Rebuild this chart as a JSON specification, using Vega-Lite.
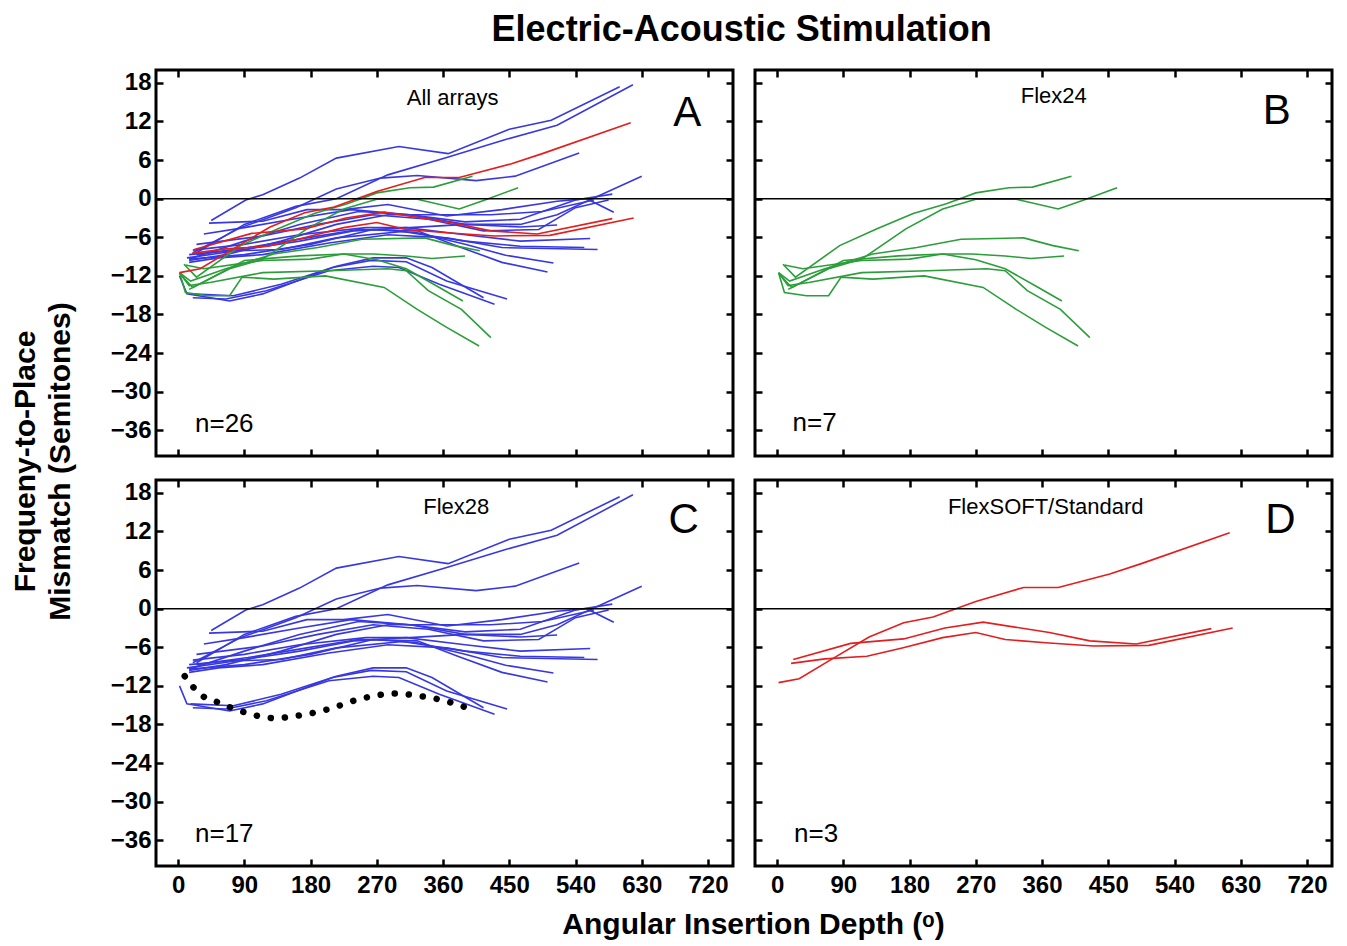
{
"$schema": "https://vega.github.io/schema/vega-lite/v6.json",
"background": "white",
"padding": {"left": 8, "top": 12, "right": 12, "bottom": 8},
"title": {"text": "Electric-Acoustic Stimulation", "fontSize": 36, "fontWeight": "bold", "font": "Liberation Sans", "anchor": "middle", "frame": "bounds", "dx": 70, "offset": 18, "color": "black"},
"data": {"values": [
{"g":"Flex28","id":"b01","x":45,"y":-3.4},{"g":"Flex28","id":"b01","x":92,"y":-0.2},{"g":"Flex28","id":"b01","x":115,"y":0.6},{"g":"Flex28","id":"b01","x":165,"y":3.2},{"g":"Flex28","id":"b01","x":215,"y":6.3},{"g":"Flex28","id":"b01","x":300,"y":8.1},{"g":"Flex28","id":"b01","x":367,"y":7.0},{"g":"Flex28","id":"b01","x":450,"y":10.8},{"g":"Flex28","id":"b01","x":507,"y":12.2},{"g":"Flex28","id":"b01","x":600,"y":17.4},
{"g":"Flex28","id":"b02","x":25,"y":-8.4},{"g":"Flex28","id":"b02","x":90,"y":-4},{"g":"Flex28","id":"b02","x":160,"y":-1.2},{"g":"Flex28","id":"b02","x":215,"y":0},{"g":"Flex28","id":"b02","x":285,"y":3.7},{"g":"Flex28","id":"b02","x":365,"y":6.4},{"g":"Flex28","id":"b02","x":445,"y":9.2},{"g":"Flex28","id":"b02","x":515,"y":11.4},{"g":"Flex28","id":"b02","x":618,"y":17.7},
{"g":"Flex28","id":"b03","x":20,"y":-8.4},{"g":"Flex28","id":"b03","x":85,"y":-4.5},{"g":"Flex28","id":"b03","x":160,"y":-1.4},{"g":"Flex28","id":"b03","x":215,"y":1.5},{"g":"Flex28","id":"b03","x":275,"y":3.2},{"g":"Flex28","id":"b03","x":325,"y":3.6},{"g":"Flex28","id":"b03","x":405,"y":2.8},{"g":"Flex28","id":"b03","x":458,"y":3.5},{"g":"Flex28","id":"b03","x":545,"y":7.1},
{"g":"Flex28","id":"b04","x":15,"y":-9.4},{"g":"Flex28","id":"b04","x":90,"y":-6.6},{"g":"Flex28","id":"b04","x":165,"y":-4},{"g":"Flex28","id":"b04","x":245,"y":-2},{"g":"Flex28","id":"b04","x":315,"y":-2.5},{"g":"Flex28","id":"b04","x":390,"y":-4},{"g":"Flex28","id":"b04","x":465,"y":-4},{"g":"Flex28","id":"b04","x":515,"y":-2.5},{"g":"Flex28","id":"b04","x":565,"y":0.1},{"g":"Flex28","id":"b04","x":630,"y":3.5},
{"g":"Flex28","id":"b05","x":42,"y":-3.8},{"g":"Flex28","id":"b05","x":115,"y":-3.5},{"g":"Flex28","id":"b05","x":175,"y":-1.7},{"g":"Flex28","id":"b05","x":225,"y":-1.7},{"g":"Flex28","id":"b05","x":285,"y":-0.9},{"g":"Flex28","id":"b05","x":365,"y":-2.7},{"g":"Flex28","id":"b05","x":440,"y":-1.7},{"g":"Flex28","id":"b05","x":515,"y":-0.4},{"g":"Flex28","id":"b05","x":555,"y":0},{"g":"Flex28","id":"b05","x":592,"y":-2.1},
{"g":"Flex28","id":"b06","x":35,"y":-5.5},{"g":"Flex28","id":"b06","x":90,"y":-4.5},{"g":"Flex28","id":"b06","x":165,"y":-3},{"g":"Flex28","id":"b06","x":235,"y":-1.7},{"g":"Flex28","id":"b06","x":315,"y":-2.5},{"g":"Flex28","id":"b06","x":390,"y":-3.6},{"g":"Flex28","id":"b06","x":465,"y":-3.2},{"g":"Flex28","id":"b06","x":540,"y":-0.2},{"g":"Flex28","id":"b06","x":590,"y":0.7},
{"g":"Flex28","id":"b07","x":25,"y":-7.1},{"g":"Flex28","id":"b07","x":115,"y":-5.8},{"g":"Flex28","id":"b07","x":190,"y":-4},{"g":"Flex28","id":"b07","x":265,"y":-2.5},{"g":"Flex28","id":"b07","x":340,"y":-3.2},{"g":"Flex28","id":"b07","x":415,"y":-5},{"g":"Flex28","id":"b07","x":490,"y":-4.8},{"g":"Flex28","id":"b07","x":540,"y":-1.4},{"g":"Flex28","id":"b07","x":585,"y":-0.2},
{"g":"Flex28","id":"b08","x":20,"y":-8},{"g":"Flex28","id":"b08","x":90,"y":-7.1},{"g":"Flex28","id":"b08","x":165,"y":-5.6},{"g":"Flex28","id":"b08","x":255,"y":-4.5},{"g":"Flex28","id":"b08","x":315,"y":-4.5},{"g":"Flex28","id":"b08","x":390,"y":-4},{"g":"Flex28","id":"b08","x":465,"y":-4.4},{"g":"Flex28","id":"b08","x":515,"y":-4.1},
{"g":"Flex28","id":"b09","x":15,"y":-8.7},{"g":"Flex28","id":"b09","x":90,"y":-7.9},{"g":"Flex28","id":"b09","x":165,"y":-6.6},{"g":"Flex28","id":"b09","x":240,"y":-5},{"g":"Flex28","id":"b09","x":310,"y":-4.5},{"g":"Flex28","id":"b09","x":390,"y":-5.6},{"g":"Flex28","id":"b09","x":465,"y":-6.6},{"g":"Flex28","id":"b09","x":560,"y":-6.2},
{"g":"Flex28","id":"b10","x":12,"y":-9.2},{"g":"Flex28","id":"b10","x":80,"y":-8.1},{"g":"Flex28","id":"b10","x":140,"y":-7.9},{"g":"Flex28","id":"b10","x":215,"y":-6.1},{"g":"Flex28","id":"b10","x":305,"y":-5.1},{"g":"Flex28","id":"b10","x":390,"y":-6.6},{"g":"Flex28","id":"b10","x":465,"y":-7.4},{"g":"Flex28","id":"b10","x":552,"y":-7.6},
{"g":"Flex28","id":"b11","x":15,"y":-9.9},{"g":"Flex28","id":"b11","x":55,"y":-9.2},{"g":"Flex28","id":"b11","x":115,"y":-8.7},{"g":"Flex28","id":"b11","x":205,"y":-6.9},{"g":"Flex28","id":"b11","x":285,"y":-5.6},{"g":"Flex28","id":"b11","x":365,"y":-6.1},{"g":"Flex28","id":"b11","x":440,"y":-7.6},{"g":"Flex28","id":"b11","x":570,"y":-7.9},
{"g":"Flex28","id":"b12","x":15,"y":-9.4},{"g":"Flex28","id":"b12","x":90,"y":-8.7},{"g":"Flex28","id":"b12","x":180,"y":-7.1},{"g":"Flex28","id":"b12","x":265,"y":-4.8},{"g":"Flex28","id":"b12","x":325,"y":-5.3},{"g":"Flex28","id":"b12","x":390,"y":-7.1},{"g":"Flex28","id":"b12","x":445,"y":-8.8},{"g":"Flex28","id":"b12","x":510,"y":-10},
{"g":"Flex28","id":"b13","x":25,"y":-8.7},{"g":"Flex28","id":"b13","x":95,"y":-7.6},{"g":"Flex28","id":"b13","x":175,"y":-6.1},{"g":"Flex28","id":"b13","x":245,"y":-4.8},{"g":"Flex28","id":"b13","x":325,"y":-5},{"g":"Flex28","id":"b13","x":380,"y":-7.4},{"g":"Flex28","id":"b13","x":440,"y":-9.9},{"g":"Flex28","id":"b13","x":502,"y":-11.4},
{"g":"Flex28","id":"b14","x":2,"y":-12},{"g":"Flex28","id":"b14","x":12,"y":-14.8},{"g":"Flex28","id":"b14","x":70,"y":-15.9},{"g":"Flex28","id":"b14","x":115,"y":-14.8},{"g":"Flex28","id":"b14","x":210,"y":-10.7},{"g":"Flex28","id":"b14","x":262,"y":-9.6},{"g":"Flex28","id":"b14","x":310,"y":-9.8},{"g":"Flex28","id":"b14","x":365,"y":-12.8},{"g":"Flex28","id":"b14","x":447,"y":-15.6},
{"g":"Flex28","id":"b15","x":20,"y":-15.4},{"g":"Flex28","id":"b15","x":65,"y":-15.6},{"g":"Flex28","id":"b15","x":120,"y":-14.3},{"g":"Flex28","id":"b15","x":205,"y":-11.2},{"g":"Flex28","id":"b15","x":265,"y":-10.5},{"g":"Flex28","id":"b15","x":300,"y":-10.7},{"g":"Flex28","id":"b15","x":355,"y":-13.3},{"g":"Flex28","id":"b15","x":430,"y":-16.4},
{"g":"Flex28","id":"b16","x":17,"y":-14.8},{"g":"Flex28","id":"b16","x":75,"y":-15.1},{"g":"Flex28","id":"b16","x":140,"y":-13.3},{"g":"Flex28","id":"b16","x":215,"y":-10.5},{"g":"Flex28","id":"b16","x":265,"y":-9.2},{"g":"Flex28","id":"b16","x":310,"y":-9.2},{"g":"Flex28","id":"b16","x":345,"y":-10.7},{"g":"Flex28","id":"b16","x":415,"y":-15.4},
{"g":"Flex28","id":"b17","x":15,"y":-9.6},{"g":"Flex28","id":"b17","x":65,"y":-8.7},{"g":"Flex28","id":"b17","x":140,"y":-6.6},{"g":"Flex28","id":"b17","x":215,"y":-4},{"g":"Flex28","id":"b17","x":285,"y":-2.5},{"g":"Flex28","id":"b17","x":355,"y":-2.5},{"g":"Flex28","id":"b17","x":425,"y":-2.5},{"g":"Flex28","id":"b17","x":495,"y":-2},{"g":"Flex28","id":"b17","x":565,"y":-0.2},
{"g":"Flex24","id":"g1","x":8,"y":-10.2},{"g":"Flex24","id":"g1","x":25,"y":-12.2},{"g":"Flex24","id":"g1","x":85,"y":-7.3},{"g":"Flex24","id":"g1","x":135,"y":-4.7},{"g":"Flex24","id":"g1","x":185,"y":-2.3},{"g":"Flex24","id":"g1","x":230,"y":-0.8},{"g":"Flex24","id":"g1","x":270,"y":0.9},{"g":"Flex24","id":"g1","x":315,"y":1.7},{"g":"Flex24","id":"g1","x":347,"y":1.8},{"g":"Flex24","id":"g1","x":400,"y":3.5},
{"g":"Flex24","id":"g2","x":15,"y":-14.1},{"g":"Flex24","id":"g2","x":70,"y":-10.9},{"g":"Flex24","id":"g2","x":115,"y":-9.4},{"g":"Flex24","id":"g2","x":175,"y":-4.7},{"g":"Flex24","id":"g2","x":225,"y":-1.6},{"g":"Flex24","id":"g2","x":270,"y":-0.1},{"g":"Flex24","id":"g2","x":325,"y":-0.1},{"g":"Flex24","id":"g2","x":382,"y":-1.6},{"g":"Flex24","id":"g2","x":415,"y":-0.3},{"g":"Flex24","id":"g2","x":462,"y":1.7},
{"g":"Flex24","id":"g3","x":2,"y":-11.5},{"g":"Flex24","id":"g3","x":17,"y":-12.8},{"g":"Flex24","id":"g3","x":65,"y":-10.9},{"g":"Flex24","id":"g3","x":130,"y":-8.6},{"g":"Flex24","id":"g3","x":190,"y":-7.6},{"g":"Flex24","id":"g3","x":250,"y":-6.3},{"g":"Flex24","id":"g3","x":335,"y":-6.1},{"g":"Flex24","id":"g3","x":375,"y":-7.3},{"g":"Flex24","id":"g3","x":410,"y":-8.1},
{"g":"Flex24","id":"g4","x":5,"y":-12},{"g":"Flex24","id":"g4","x":20,"y":-13.8},{"g":"Flex24","id":"g4","x":90,"y":-9.6},{"g":"Flex24","id":"g4","x":165,"y":-8.9},{"g":"Flex24","id":"g4","x":225,"y":-8.6},{"g":"Flex24","id":"g4","x":265,"y":-8.6},{"g":"Flex24","id":"g4","x":310,"y":-8.9},{"g":"Flex24","id":"g4","x":345,"y":-9.3},{"g":"Flex24","id":"g4","x":390,"y":-8.9},
{"g":"Flex24","id":"g5","x":10,"y":-10.3},{"g":"Flex24","id":"g5","x":35,"y":-10.9},{"g":"Flex24","id":"g5","x":115,"y":-9.6},{"g":"Flex24","id":"g5","x":180,"y":-9.4},{"g":"Flex24","id":"g5","x":225,"y":-8.6},{"g":"Flex24","id":"g5","x":270,"y":-9.5},{"g":"Flex24","id":"g5","x":310,"y":-10.9},{"g":"Flex24","id":"g5","x":355,"y":-13.8},{"g":"Flex24","id":"g5","x":387,"y":-15.9},
{"g":"Flex24","id":"g6","x":2,"y":-11.5},{"g":"Flex24","id":"g6","x":15,"y":-13.5},{"g":"Flex24","id":"g6","x":45,"y":-13},{"g":"Flex24","id":"g6","x":115,"y":-11.5},{"g":"Flex24","id":"g6","x":205,"y":-11.2},{"g":"Flex24","id":"g6","x":285,"y":-10.9},{"g":"Flex24","id":"g6","x":310,"y":-11.2},{"g":"Flex24","id":"g6","x":340,"y":-14.3},{"g":"Flex24","id":"g6","x":385,"y":-17.2},{"g":"Flex24","id":"g6","x":425,"y":-21.6},
{"g":"Flex24","id":"g7","x":2,"y":-11.5},{"g":"Flex24","id":"g7","x":10,"y":-14.6},{"g":"Flex24","id":"g7","x":40,"y":-15.1},{"g":"Flex24","id":"g7","x":70,"y":-15.1},{"g":"Flex24","id":"g7","x":87,"y":-12.2},{"g":"Flex24","id":"g7","x":130,"y":-12.5},{"g":"Flex24","id":"g7","x":200,"y":-12},{"g":"Flex24","id":"g7","x":280,"y":-13.8},{"g":"Flex24","id":"g7","x":325,"y":-17.2},{"g":"Flex24","id":"g7","x":365,"y":-20},{"g":"Flex24","id":"g7","x":409,"y":-22.9},
{"g":"FlexSOFT","id":"r1","x":2,"y":-11.5},{"g":"FlexSOFT","id":"r1","x":30,"y":-10.9},{"g":"FlexSOFT","id":"r1","x":75,"y":-7.8},{"g":"FlexSOFT","id":"r1","x":125,"y":-4.4},{"g":"FlexSOFT","id":"r1","x":172,"y":-2.2},{"g":"FlexSOFT","id":"r1","x":212,"y":-1.3},{"g":"FlexSOFT","id":"r1","x":270,"y":1.1},{"g":"FlexSOFT","id":"r1","x":335,"y":3.3},{"g":"FlexSOFT","id":"r1","x":382,"y":3.3},{"g":"FlexSOFT","id":"r1","x":452,"y":5.4},{"g":"FlexSOFT","id":"r1","x":495,"y":7},{"g":"FlexSOFT","id":"r1","x":615,"y":11.8},
{"g":"FlexSOFT","id":"r2","x":22,"y":-7.9},{"g":"FlexSOFT","id":"r2","x":100,"y":-5.4},{"g":"FlexSOFT","id":"r2","x":172,"y":-4.7},{"g":"FlexSOFT","id":"r2","x":228,"y":-3},{"g":"FlexSOFT","id":"r2","x":280,"y":-2.1},{"g":"FlexSOFT","id":"r2","x":370,"y":-3.7},{"g":"FlexSOFT","id":"r2","x":425,"y":-5},{"g":"FlexSOFT","id":"r2","x":488,"y":-5.5},{"g":"FlexSOFT","id":"r2","x":590,"y":-3.1},
{"g":"FlexSOFT","id":"r3","x":19,"y":-8.5},{"g":"FlexSOFT","id":"r3","x":65,"y":-7.8},{"g":"FlexSOFT","id":"r3","x":122,"y":-7.4},{"g":"FlexSOFT","id":"r3","x":170,"y":-6.1},{"g":"FlexSOFT","id":"r3","x":225,"y":-4.5},{"g":"FlexSOFT","id":"r3","x":270,"y":-3.7},{"g":"FlexSOFT","id":"r3","x":310,"y":-4.8},{"g":"FlexSOFT","id":"r3","x":365,"y":-5.3},{"g":"FlexSOFT","id":"r3","x":430,"y":-5.8},{"g":"FlexSOFT","id":"r3","x":505,"y":-5.7},{"g":"FlexSOFT","id":"r3","x":619,"y":-3},
{"g":"ref","id":"d","x":9,"y":-10.5},{"g":"ref","id":"d","x":30,"y":-13.3},{"g":"ref","id":"d","x":55,"y":-14.6},{"g":"ref","id":"d","x":90,"y":-16.1},{"g":"ref","id":"d","x":130,"y":-17},{"g":"ref","id":"d","x":165,"y":-16.6},{"g":"ref","id":"d","x":205,"y":-15.6},{"g":"ref","id":"d","x":245,"y":-14.1},{"g":"ref","id":"d","x":295,"y":-13.2},{"g":"ref","id":"d","x":330,"y":-13.6},{"g":"ref","id":"d","x":365,"y":-14.4},{"g":"ref","id":"d","x":392,"y":-15.4}
]},
"columns": 2,
"spacing": {"row": 24, "column": 22},
"bounds": "flush",
"concat": [
{
 "width": 577, "height": 386,
 "layer": [
  {"transform": [{"filter": "datum.g !== 'ref'"}],
   "mark": {"type": "line", "strokeWidth": 1.6},
   "encoding": {
    "x": {"field": "x", "type": "quantitative", "scale": {"domain": [-30, 754], "nice": false, "zero": false}, "axis": {"orient": "bottom", "values": [0,90,180,270,360,450,540,630,720], "labels": false, "title": null}},
    "y": {"field": "y", "type": "quantitative", "scale": {"domain": [-40, 20], "nice": false, "zero": false}, "axis": {"orient": "left", "values": [-36,-30,-24,-18,-12,-6,0,6,12,18], "title": ["Frequeny-to-Place", "Mismatch (Semitones)"], "titleX": -131, "titleY": 391, "titleAngle": -90, "titleAlign": "center", "titleBaseline": "middle", "titleLineHeight": 35}},
    "color": {"field": "g", "type": "nominal", "scale": {"domain": ["Flex28", "Flex24", "FlexSOFT"], "range": ["#3838e2", "#2b9e3a", "#e41d1d"]}, "legend": null},
    "detail": {"field": "id"}
   }},
  {"data": {"values": [{}]}, "mark": {"type": "rule", "color": "black", "strokeWidth": 1.5},
   "encoding": {"y": {"datum": 0, "type": "quantitative", "scale": {"domain": [-40, 20], "nice": false, "zero": false}, "axis": null}}},
  {"data": {"values": [{}]}, "mark": {"type": "text", "fontSize": 22, "align": "center", "baseline": "alphabetic", "color": "black"},
   "encoding": {
    "x": {"datum": 373, "type": "quantitative", "scale": {"domain": [-30, 754], "nice": false, "zero": false}, "axis": {"orient": "top", "values": [0,90,180,270,360,450,540,630,720], "labels": false, "title": null}},
    "y": {"datum": 14.6, "type": "quantitative", "scale": {"domain": [-40, 20], "nice": false, "zero": false}, "axis": {"orient": "right", "values": [-36,-30,-24,-18,-12,-6,0,6,12,18], "labels": false, "title": null}},
    "text": {"datum": "All arrays"}}},
  {"data": {"values": [{}]}, "mark": {"type": "text", "fontSize": 42, "align": "center", "baseline": "alphabetic", "color": "black"},
   "encoding": {
    "x": {"datum": 692, "type": "quantitative", "scale": {"domain": [-30, 754], "nice": false, "zero": false}, "axis": null},
    "y": {"datum": 11.3, "type": "quantitative", "scale": {"domain": [-40, 20], "nice": false, "zero": false}, "axis": null},
    "text": {"datum": "A"}}},
  {"data": {"values": [{}]}, "mark": {"type": "text", "fontSize": 26, "align": "left", "baseline": "alphabetic", "color": "black"},
   "encoding": {
    "x": {"datum": 23, "type": "quantitative", "scale": {"domain": [-30, 754], "nice": false, "zero": false}, "axis": null},
    "y": {"datum": -36.2, "type": "quantitative", "scale": {"domain": [-40, 20], "nice": false, "zero": false}, "axis": null},
    "text": {"datum": "n=26"}}}
 ],
 "resolve": {"axis": {"x": "independent", "y": "independent"}}
},
{
 "width": 577, "height": 386,
 "layer": [
  {"transform": [{"filter": "datum.g === 'Flex24'"}],
   "mark": {"type": "line", "strokeWidth": 1.6},
   "encoding": {
    "x": {"field": "x", "type": "quantitative", "scale": {"domain": [-30, 754], "nice": false, "zero": false}, "axis": {"orient": "bottom", "values": [0,90,180,270,360,450,540,630,720], "labels": false, "title": null}},
    "y": {"field": "y", "type": "quantitative", "scale": {"domain": [-40, 20], "nice": false, "zero": false}, "axis": {"orient": "left", "values": [-36,-30,-24,-18,-12,-6,0,6,12,18], "labels": false, "title": null}},
    "color": {"field": "g", "type": "nominal", "scale": {"domain": ["Flex28", "Flex24", "FlexSOFT"], "range": ["#3838e2", "#2b9e3a", "#e41d1d"]}, "legend": null},
    "detail": {"field": "id"}
   }},
  {"data": {"values": [{}]}, "mark": {"type": "rule", "color": "black", "strokeWidth": 1.5},
   "encoding": {"y": {"datum": 0, "type": "quantitative", "scale": {"domain": [-40, 20], "nice": false, "zero": false}, "axis": null}}},
  {"data": {"values": [{}]}, "mark": {"type": "text", "fontSize": 22, "align": "center", "baseline": "alphabetic", "color": "black"},
   "encoding": {
    "x": {"datum": 376, "type": "quantitative", "scale": {"domain": [-30, 754], "nice": false, "zero": false}, "axis": {"orient": "top", "values": [0,90,180,270,360,450,540,630,720], "labels": false, "title": null}},
    "y": {"datum": 14.9, "type": "quantitative", "scale": {"domain": [-40, 20], "nice": false, "zero": false}, "axis": {"orient": "right", "values": [-36,-30,-24,-18,-12,-6,0,6,12,18], "labels": false, "title": null}},
    "text": {"datum": "Flex24"}}},
  {"data": {"values": [{}]}, "mark": {"type": "text", "fontSize": 42, "align": "center", "baseline": "alphabetic", "color": "black"},
   "encoding": {
    "x": {"datum": 679, "type": "quantitative", "scale": {"domain": [-30, 754], "nice": false, "zero": false}, "axis": null},
    "y": {"datum": 11.6, "type": "quantitative", "scale": {"domain": [-40, 20], "nice": false, "zero": false}, "axis": null},
    "text": {"datum": "B"}}},
  {"data": {"values": [{}]}, "mark": {"type": "text", "fontSize": 26, "align": "left", "baseline": "alphabetic", "color": "black"},
   "encoding": {
    "x": {"datum": 21, "type": "quantitative", "scale": {"domain": [-30, 754], "nice": false, "zero": false}, "axis": null},
    "y": {"datum": -36.1, "type": "quantitative", "scale": {"domain": [-40, 20], "nice": false, "zero": false}, "axis": null},
    "text": {"datum": "n=7"}}}
 ],
 "resolve": {"axis": {"x": "independent", "y": "independent"}}
},
{
 "width": 577, "height": 386,
 "layer": [
  {"transform": [{"filter": "datum.g === 'Flex28'"}],
   "mark": {"type": "line", "strokeWidth": 1.6},
   "encoding": {
    "x": {"field": "x", "type": "quantitative", "scale": {"domain": [-30, 754], "nice": false, "zero": false}, "axis": {"orient": "bottom", "values": [0,90,180,270,360,450,540,630,720], "title": "Angular Insertion Depth (ᵒ)", "titleX": 597, "titleY": 67, "titleAlign": "center", "titleBaseline": "alphabetic"}},
    "y": {"field": "y", "type": "quantitative", "scale": {"domain": [-40, 20], "nice": false, "zero": false}, "axis": {"orient": "left", "values": [-36,-30,-24,-18,-12,-6,0,6,12,18], "title": null}},
    "color": {"field": "g", "type": "nominal", "scale": {"domain": ["Flex28", "Flex24", "FlexSOFT"], "range": ["#3838e2", "#2b9e3a", "#e41d1d"]}, "legend": null},
    "detail": {"field": "id"}
   }},
  {"transform": [{"filter": "datum.g === 'ref'"}],
   "mark": {"type": "line", "color": "black", "strokeWidth": 6.5, "strokeCap": "round", "strokeDash": [0.1, 14], "interpolate": "monotone"},
   "encoding": {
    "x": {"field": "x", "type": "quantitative", "scale": {"domain": [-30, 754], "nice": false, "zero": false}, "axis": null},
    "y": {"field": "y", "type": "quantitative", "scale": {"domain": [-40, 20], "nice": false, "zero": false}, "axis": null}
   }},
  {"data": {"values": [{}]}, "mark": {"type": "rule", "color": "black", "strokeWidth": 1.5},
   "encoding": {"y": {"datum": 0, "type": "quantitative", "scale": {"domain": [-40, 20], "nice": false, "zero": false}, "axis": null}}},
  {"data": {"values": [{}]}, "mark": {"type": "text", "fontSize": 22, "align": "center", "baseline": "alphabetic", "color": "black"},
   "encoding": {
    "x": {"datum": 378, "type": "quantitative", "scale": {"domain": [-30, 754], "nice": false, "zero": false}, "axis": {"orient": "top", "values": [0,90,180,270,360,450,540,630,720], "labels": false, "title": null}},
    "y": {"datum": 14.7, "type": "quantitative", "scale": {"domain": [-40, 20], "nice": false, "zero": false}, "axis": {"orient": "right", "values": [-36,-30,-24,-18,-12,-6,0,6,12,18], "labels": false, "title": null}},
    "text": {"datum": "Flex28"}}},
  {"data": {"values": [{}]}, "mark": {"type": "text", "fontSize": 42, "align": "center", "baseline": "alphabetic", "color": "black"},
   "encoding": {
    "x": {"datum": 687, "type": "quantitative", "scale": {"domain": [-30, 754], "nice": false, "zero": false}, "axis": null},
    "y": {"datum": 11.8, "type": "quantitative", "scale": {"domain": [-40, 20], "nice": false, "zero": false}, "axis": null},
    "text": {"datum": "C"}}},
  {"data": {"values": [{}]}, "mark": {"type": "text", "fontSize": 26, "align": "left", "baseline": "alphabetic", "color": "black"},
   "encoding": {
    "x": {"datum": 23, "type": "quantitative", "scale": {"domain": [-30, 754], "nice": false, "zero": false}, "axis": null},
    "y": {"datum": -36.2, "type": "quantitative", "scale": {"domain": [-40, 20], "nice": false, "zero": false}, "axis": null},
    "text": {"datum": "n=17"}}}
 ],
 "resolve": {"axis": {"x": "independent", "y": "independent"}}
},
{
 "width": 577, "height": 386,
 "layer": [
  {"transform": [{"filter": "datum.g === 'FlexSOFT'"}],
   "mark": {"type": "line", "strokeWidth": 1.6},
   "encoding": {
    "x": {"field": "x", "type": "quantitative", "scale": {"domain": [-30, 754], "nice": false, "zero": false}, "axis": {"orient": "bottom", "values": [0,90,180,270,360,450,540,630,720], "title": null}},
    "y": {"field": "y", "type": "quantitative", "scale": {"domain": [-40, 20], "nice": false, "zero": false}, "axis": {"orient": "left", "values": [-36,-30,-24,-18,-12,-6,0,6,12,18], "labels": false, "title": null}},
    "color": {"field": "g", "type": "nominal", "scale": {"domain": ["Flex28", "Flex24", "FlexSOFT"], "range": ["#3838e2", "#2b9e3a", "#e41d1d"]}, "legend": null},
    "detail": {"field": "id"}
   }},
  {"data": {"values": [{}]}, "mark": {"type": "rule", "color": "black", "strokeWidth": 1.5},
   "encoding": {"y": {"datum": 0, "type": "quantitative", "scale": {"domain": [-40, 20], "nice": false, "zero": false}, "axis": null}}},
  {"data": {"values": [{}]}, "mark": {"type": "text", "fontSize": 22, "align": "center", "baseline": "alphabetic", "color": "black"},
   "encoding": {
    "x": {"datum": 365, "type": "quantitative", "scale": {"domain": [-30, 754], "nice": false, "zero": false}, "axis": {"orient": "top", "values": [0,90,180,270,360,450,540,630,720], "labels": false, "title": null}},
    "y": {"datum": 14.7, "type": "quantitative", "scale": {"domain": [-40, 20], "nice": false, "zero": false}, "axis": {"orient": "right", "values": [-36,-30,-24,-18,-12,-6,0,6,12,18], "labels": false, "title": null}},
    "text": {"datum": "FlexSOFT/Standard"}}},
  {"data": {"values": [{}]}, "mark": {"type": "text", "fontSize": 42, "align": "center", "baseline": "alphabetic", "color": "black"},
   "encoding": {
    "x": {"datum": 684, "type": "quantitative", "scale": {"domain": [-30, 754], "nice": false, "zero": false}, "axis": null},
    "y": {"datum": 11.8, "type": "quantitative", "scale": {"domain": [-40, 20], "nice": false, "zero": false}, "axis": null},
    "text": {"datum": "D"}}},
  {"data": {"values": [{}]}, "mark": {"type": "text", "fontSize": 26, "align": "left", "baseline": "alphabetic", "color": "black"},
   "encoding": {
    "x": {"datum": 23, "type": "quantitative", "scale": {"domain": [-30, 754], "nice": false, "zero": false}, "axis": null},
    "y": {"datum": -36.2, "type": "quantitative", "scale": {"domain": [-40, 20], "nice": false, "zero": false}, "axis": null},
    "text": {"datum": "n=3"}}}
 ],
 "resolve": {"axis": {"x": "independent", "y": "independent"}}
}
],
"config": {
 "font": "Liberation Sans",
 "view": {"stroke": "black", "strokeWidth": 3},
 "axis": {"domain": false, "grid": false, "tickColor": "black", "tickWidth": 2.5, "tickSize": -7, "labelFont": "Liberation Sans", "labelFontWeight": "bold", "labelFontSize": 24, "labelColor": "black", "labelFlush": false, "labelOverlap": false, "titleFont": "Liberation Sans", "titleFontWeight": "bold", "titleFontSize": 30, "titleColor": "black"},
 "axisX": {"labelPadding": 14},
 "axisY": {"labelPadding": 12},
 "text": {"font": "Liberation Sans"}
}
}
